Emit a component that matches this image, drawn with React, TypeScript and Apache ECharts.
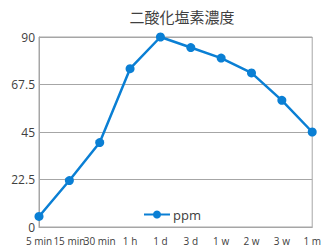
import React, { useEffect, useRef } from "react";
import * as echarts from "echarts";

const categories = ["5 min", "15 min", "30 min", "1 h", "1 d", "3 d", "1 w", "2 w", "3 w", "1 m"];
const ppmValues = [5, 22, 40, 75, 90, 85, 80, 73, 60, 45];
const yTicks = [0, 22.5, 45, 67.5, 90];

export default function App() {
  const ref = useRef<HTMLDivElement>(null);
  useEffect(() => {
    if (!ref.current) return;
    const chart = echarts.init(ref.current, null, { renderer: "svg" });
    const blue = "#0a7fd4";
    chart.setOption({
      animation: false,
      backgroundColor: "#ffffff",
      title: {
        text: "二酸化塩素濃度",
        left: 177,
        textAlign: "center",
        top: 4,
        textStyle: { fontFamily: "Noto Sans CJK JP", fontSize: 15, fontWeight: "normal", color: "#404040" },
      },
      legend: {
        data: ["ppm"],
        left: 138,
        top: 203,
        itemWidth: 26,
        itemHeight: 10,
        itemGap: 4,
        textStyle: { fontFamily: "Open Sans", fontSize: 13, color: "#404040", padding: [0, 0, 0, -2] },
      },
      grid: { left: 39, right: 10, top: 37, bottom: 20, show: true, borderColor: "#a6a6a6", borderWidth: 1 },
      xAxis: {
        type: "category",
        data: categories,
        boundaryGap: false,
        axisLine: { lineStyle: { color: "#a6a6a6" } },
        axisTick: { show: false },
        axisLabel: {
          interval: 0,
          color: "#404040",
          fontFamily: "Open Sans",
          fontSize: 10,
          margin: 9,
          lineHeight: 10,
          letterSpacing: -0.6,
        },
      },
      yAxis: {
        type: "value",
        min: 0,
        max: 90,
        interval: 22.5,
        axisLine: { show: true, lineStyle: { color: "#a6a6a6" } },
        axisTick: { show: false },
        splitLine: { lineStyle: { color: "#a6a6a6" } },
        axisLabel: {
          color: "#404040",
          fontFamily: "Open Sans",
          fontSize: 12,
          lineHeight: 12,
          margin: 4,
          formatter: (v: number) => (yTicks.includes(v) ? String(v) : ""),
        },
      },
      series: [
        {
          name: "ppm",
          type: "line",
          data: ppmValues,
          symbol: "circle",
          symbolSize: 9,
          itemStyle: { color: blue },
          lineStyle: { color: blue, width: 2.5 },
        },
      ],
    });
    return () => chart.dispose();
  }, []);
  return <div ref={ref} style={{ width: 324, height: 247, position: "absolute", left: 0, top: 0 }} />;
}
